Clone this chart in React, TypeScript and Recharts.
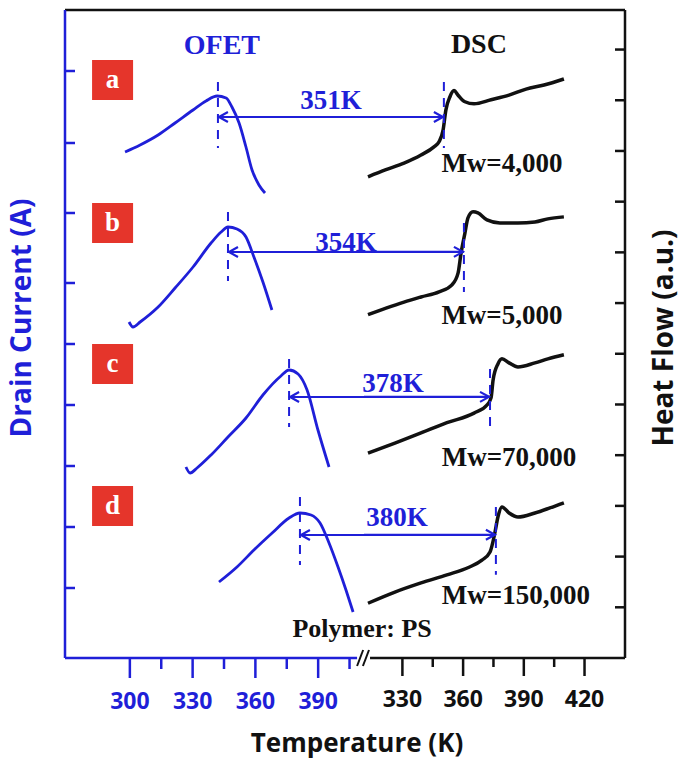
import React from 'react';
import { ComposedChart, Line, XAxis, YAxis, ReferenceLine, ReferenceDot } from 'recharts';

const BLUE = '#1f1fd8';
const BLACK = '#111111';
const RED = '#e5352b';
const SERIF = "'Liberation Serif', 'Times New Roman', serif";
const SANS = "'Open Sans', 'DejaVu Sans', sans-serif";

// ---- axis ticks ----
const ofetTicks = [300, 315, 330, 345, 360, 375, 390, 405];
const ofetTickLabels = ['300', '330', '360', '390'];
const dscTicks = [330, 345, 360, 375, 390, 405, 420];
const dscTickLabels = ['330', '360', '390', '420'];
const leftTicks = [7.0, 13.1, 19.2, 25.3, 31.4, 37.5, 44.5, 51.5, 58.7];
const rightTicks = [1, 2, 3, 4, 5, 6, 7, 8, 9, 10, 11, 12];

// ---- panel annotations ----
const panelLetters = ['a', 'b', 'c', 'd'];
const gapLabels = ['351K', '354K', '378K', '380K'];
const mwLabels = ['Mw=4,000', 'Mw=5,000', 'Mw=70,000', 'Mw=150,000'];

// ---- OFET drain current curves (temperature K, current a.u. offset per panel) ----
const ofetTempA = [297.7, 304.9, 313.5, 321.6, 330.2, 336.4, 341.7, 346.0, 348.8, 352.2, 355.5, 358.4, 361.7, 364.6];
const ofetCurrA = [50.6, 51.3, 52.3, 53.5, 54.8, 55.7, 56.2, 56.0, 55.1, 53.5, 51.1, 48.8, 47.3, 46.5];
const ofetTempB = [299.6, 301.5, 304.9, 313.5, 321.6, 330.2, 338.8, 343.6, 346.9, 351.2, 355.5, 359.3, 363.6, 367.9];
const ofetCurrB = [33.6, 33.1, 33.6, 35.1, 37.0, 39.1, 41.5, 42.6, 43.1, 42.9, 42.1, 40.1, 37.6, 34.8];
const ofetTempC = [326.8, 328.8, 332.1, 338.8, 346.9, 355.5, 363.6, 372.2, 376.1, 380.4, 384.7, 389.9, 395.2];
const ofetCurrC = [19.1, 18.5, 19.0, 20.3, 22.1, 24.0, 26.3, 28.2, 28.8, 28.4, 26.8, 22.8, 19.1];
const ofetTempD = [342.6, 351.2, 359.3, 368.0, 376.1, 381.3, 386.6, 390.9, 395.2, 399.5, 403.3, 406.7];
const ofetCurrD = [7.6, 9.1, 10.8, 12.5, 14.0, 14.5, 14.3, 13.5, 11.5, 9.1, 6.8, 4.6];

// ---- DSC heat flow curves (temperature K, heat flow a.u.) ----
const dscTempA = [313.0, 321.9, 330.8, 339.2, 345.6, 348.1, 350.1, 351.5, 353.5, 355.5, 357.5, 360.9, 365.4, 373.8, 382.7, 391.1, 400.0, 409.8];
const dscHeatA = [9.49, 9.63, 9.76, 9.92, 10.08, 10.18, 10.41, 10.81, 11.07, 11.19, 11.10, 10.97, 10.93, 11.01, 11.10, 11.22, 11.30, 11.42];
const dscTempB = [313.0, 321.9, 330.8, 339.2, 348.1, 354.5, 357.5, 359.0, 360.9, 362.4, 364.9, 367.3, 371.8, 378.2, 387.1, 395.5, 401.9, 409.8];
const dscHeatB = [6.77, 6.90, 7.02, 7.12, 7.22, 7.36, 7.59, 7.99, 8.38, 8.68, 8.80, 8.78, 8.64, 8.58, 8.58, 8.60, 8.66, 8.70];
const dscTempC = [313.0, 326.3, 339.2, 352.0, 365.4, 371.8, 373.8, 374.8, 377.2, 379.2, 382.7, 387.1, 395.5, 401.9, 409.8];
const dscHeatC = [4.04, 4.24, 4.44, 4.64, 4.83, 4.99, 5.13, 5.48, 5.80, 5.90, 5.82, 5.74, 5.82, 5.90, 5.98];
const dscTempD = [313.0, 326.3, 339.2, 352.0, 362.9, 369.3, 373.3, 375.7, 377.2, 379.2, 382.7, 387.1, 395.5, 402.9, 409.8];
const dscHeatD = [1.08, 1.30, 1.48, 1.64, 1.79, 1.93, 2.09, 2.47, 2.78, 2.98, 2.86, 2.78, 2.86, 2.96, 3.06];

// ---- marker values ----
const ofetPeakT = [342.1, 346.9, 376.1, 381.3];
const ofetPeakTop = [57.6, 44.6, 29.9, 16.1];
const ofetPeakBottom = [51.0, 37.7, 23.1, 9.3];
const dscTgT = [350.5, 360.4, 373.3, 376.2];
const dscTgTop = [11.36, 8.58, 5.70, 2.98];
const dscTgBottom = [10.06, 7.22, 4.44, 1.64];
const arrowLeftY = [54.1, 40.6, 26.1, 12.3];
const arrowRightY = [10.67, 8.01, 5.15, 2.43];
const gapLabelT = [396.2, 403.3, 425.8, 427.7];
const gapLabelY = [55.8, 41.6, 27.5, 14.1];
const mwLabelT = [379.2, 379.2, 382.7, 386.1];
const mwLabelY = [9.76, 6.77, 3.96, 1.24];
const letterT = 291.5;
const letterY = [57.8, 43.5, 29.4, 15.2];
const OFET_MIN = 269, OFET_MAX = 410, OFET_BREAK = 413;
const DSC_MIN = 313, DSC_MAX = 440, DSC_BREAK = 311;
const LEFT_MAX = 64.8, RIGHT_MAX = 12.78;

const zip = (t: number[], v: number[]) => t.map((x, i) => ({ t: x, v: v[i] }));
const ofetSeries = [zip(ofetTempA, ofetCurrA), zip(ofetTempB, ofetCurrB), zip(ofetTempC, ofetCurrC), zip(ofetTempD, ofetCurrD)];
const dscSeries = [zip(dscTempA, dscHeatA), zip(dscTempB, dscHeatB), zip(dscTempC, dscHeatC), zip(dscTempD, dscHeatD)];

const bottomTick = (color: string, labels: string[], dy: number) => (p: any) => {
  const val = String(p.payload.value);
  const major = labels.includes(val);
  const y0 = p.y - dy;
  return (
    <g>
      <line x1={p.x} y1={y0} x2={p.x} y2={y0 + (major ? 19 : 10)} stroke={color} strokeWidth={2.5} />
      {major && (
        <text x={p.x} y={y0 + 41} textAnchor="middle" dominantBaseline="central" fill={color}
          fontFamily={SANS} fontWeight={700} fontSize={23}>{val}</text>
      )}
    </g>
  );
};

const sideTick = (color: string, dir: number) => (p: any) => (
  <line x1={p.x} y1={p.y} x2={p.x + dir * 10} y2={p.y} stroke={color} strokeWidth={2.5} />
);

const textShape = (s: string, color: string, size: number, family = SERIF) => (p: any) => (
  <text x={p.cx} y={p.cy} textAnchor="middle" dominantBaseline="central" fill={color}
    fontFamily={family} fontWeight={700} fontSize={size}>{s}</text>
);

const letterShape = (s: string) => (p: any) => (
  <g>
    <rect x={p.cx - 20} y={p.cy - 20} width={41} height={40} fill={RED} />
    <text x={p.cx + 0.5} y={p.cy - 1} textAnchor="middle" dominantBaseline="central" fill="#fff"
      fontFamily={SERIF} fontWeight={700} fontSize={27}>{s}</text>
  </g>
);

const arrowLeft = (p: any) => (
  <g>
    <line x1={p.x1} y1={p.y1} x2={p.x2} y2={p.y2} stroke={BLUE} strokeWidth={2.2} />
    <path d={`M${p.x1 + 10},${p.y1 - 5} L${p.x1 + 1},${p.y1} L${p.x1 + 10},${p.y1 + 5}`} fill="none" stroke={BLUE} strokeWidth={2.2} />
  </g>
);
const arrowRight = (p: any) => (
  <g>
    <line x1={p.x1} y1={p.y1} x2={p.x2} y2={p.y2} stroke={BLUE} strokeWidth={2.2} />
    <path d={`M${p.x2 - 10},${p.y2 - 5} L${p.x2 - 1},${p.y2} L${p.x2 - 10},${p.y2 + 5}`} fill="none" stroke={BLUE} strokeWidth={2.2} />
  </g>
);

export default function App() {
  return (
    <div style={{ position: 'absolute', left: 0, top: 0, width: 685, height: 766, background: '#fff' }}>
      <ComposedChart width={685} height={766} margin={{ top: 10, right: 0, bottom: 106, left: 0 }}>
        <XAxis xAxisId="ofet" type="number" dataKey="t" domain={[OFET_MIN, OFET_MAX]} padding={{ left: 0, right: 265 }}
          ticks={ofetTicks} interval={0} axisLine={false} tickLine={false} tickSize={0} tickMargin={0} height={1}
          tick={bottomTick(BLUE, ofetTickLabels, 0)}
          label={{
            content: () => (
              <text x={357} y={742} textAnchor="middle" dominantBaseline="central" fill={BLACK}
                fontFamily={SANS} fontWeight={700} fontSize={26}>Temperature (K)</text>
            ),
          }} />
        <XAxis xAxisId="dsc" type="number" dataKey="t" domain={[DSC_MIN, DSC_MAX]} padding={{ left: 303, right: 0 }}
          ticks={dscTicks} interval={0} axisLine={false} tickLine={false} tickSize={0} tickMargin={0} height={1}
          tick={bottomTick(BLACK, dscTickLabels, 1)} />
        <YAxis yAxisId="left" orientation="left" type="number" domain={[0, LEFT_MAX]} width={65}
          ticks={leftTicks} interval={0} axisLine={{ stroke: BLUE, strokeWidth: 2.5 }} tickLine={false}
          tickSize={0} tickMargin={0} tick={sideTick(BLUE, 1)}
          label={{
            content: () => (
              <text x={20} y={318} transform="rotate(-90 20 318)" textAnchor="middle" dominantBaseline="central"
                fill={BLUE} fontFamily={SANS} fontWeight={700} fontSize={28}>Drain Current (A)</text>
            ),
          }} />
        <YAxis yAxisId="right" orientation="right" type="number" domain={[0, RIGHT_MAX]} width={60}
          ticks={rightTicks} interval={0} axisLine={{ stroke: BLACK, strokeWidth: 2.5 }} tickLine={false}
          tickSize={0} tickMargin={0} tick={sideTick(BLACK, -1)}
          label={{
            content: () => (
              <text x={662} y={338} transform="rotate(-90 662 338)" textAnchor="middle" dominantBaseline="central"
                fill={BLACK} fontFamily={SANS} fontWeight={700} fontSize={28}>Heat Flow (a.u.)</text>
            ),
          }} />

        {/* frame */}
        <ReferenceLine xAxisId="ofet" yAxisId="left" y={LEFT_MAX} stroke={BLACK} strokeWidth={2.5} ifOverflow="visible" />
        <ReferenceLine xAxisId="ofet" yAxisId="left" segment={[{ x: OFET_MIN, y: 0 }, { x: 408.6, y: 0 }]}
          stroke={BLUE} strokeWidth={2.5} ifOverflow="visible" />
        <ReferenceLine xAxisId="dsc" yAxisId="right" segment={[{ x: 314, y: 0 }, { x: DSC_MAX, y: 0 }]}
          stroke={BLACK} strokeWidth={2.5} ifOverflow="visible" />
        <ReferenceLine xAxisId="ofet" yAxisId="left" segment={[{ x: 408.6, y: -0.8 }, { x: 411.5, y: 0.8 }]}
          stroke={BLACK} strokeWidth={2} ifOverflow="visible" />
        <ReferenceLine xAxisId="ofet" yAxisId="left" segment={[{ x: 411.4, y: -0.8 }, { x: 414.3, y: 0.8 }]}
          stroke={BLACK} strokeWidth={2} ifOverflow="visible" />

        {ofetSeries.map((d, i) => (
          <Line key={`o${i}`} xAxisId="ofet" yAxisId="left" data={d} dataKey="v" type="monotone"
            stroke={BLUE} strokeWidth={2.8} dot={false} activeDot={false} isAnimationActive={false} />
        ))}
        {dscSeries.map((d, i) => (
          <Line key={`d${i}`} xAxisId="dsc" yAxisId="right" data={d} dataKey="v" type="monotone"
            stroke={BLACK} strokeWidth={3.5} dot={false} activeDot={false} isAnimationActive={false} />
        ))}

        {panelLetters.map((s, i) => (
          <React.Fragment key={`p${i}`}>
            <ReferenceLine xAxisId="ofet" yAxisId="left"
              segment={[{ x: ofetPeakT[i], y: ofetPeakTop[i] }, { x: ofetPeakT[i], y: ofetPeakBottom[i] }]}
              stroke={BLUE} strokeWidth={2} strokeDasharray="9 7" ifOverflow="visible" />
            <ReferenceLine xAxisId="dsc" yAxisId="right"
              segment={[{ x: dscTgT[i], y: dscTgTop[i] }, { x: dscTgT[i], y: dscTgBottom[i] }]}
              stroke={BLUE} strokeWidth={2} strokeDasharray="9 7" ifOverflow="visible" />
            <ReferenceLine xAxisId="ofet" yAxisId="left"
              segment={[{ x: ofetPeakT[i], y: arrowLeftY[i] }, { x: OFET_BREAK, y: arrowLeftY[i] }]}
              ifOverflow="visible" shape={arrowLeft} />
            <ReferenceLine xAxisId="dsc" yAxisId="right"
              segment={[{ x: DSC_BREAK, y: arrowRightY[i] }, { x: dscTgT[i], y: arrowRightY[i] }]}
              ifOverflow="visible" shape={arrowRight} />
            <ReferenceDot xAxisId="ofet" yAxisId="left" x={gapLabelT[i]} y={gapLabelY[i]} r={0}
              ifOverflow="visible" shape={textShape(gapLabels[i], BLUE, 27)} />
            <ReferenceDot xAxisId="dsc" yAxisId="right" x={mwLabelT[i]} y={mwLabelY[i]} r={0}
              ifOverflow="visible" shape={textShape(mwLabels[i], BLACK, 27)} />
            <ReferenceDot xAxisId="ofet" yAxisId="left" x={letterT} y={letterY[i]} r={0}
              ifOverflow="visible" shape={letterShape(s)} />
          </React.Fragment>
        ))}

        <ReferenceDot xAxisId="ofet" yAxisId="left" x={344.0} y={61.4} r={0} ifOverflow="visible"
          shape={textShape('OFET', BLUE, 28)} />
        <ReferenceDot xAxisId="dsc" yAxisId="right" x={367.8} y={12.11} r={0} ifOverflow="visible"
          shape={textShape('DSC', BLACK, 28)} />
        <ReferenceDot xAxisId="ofet" yAxisId="left" x={411} y={3.0} r={0} ifOverflow="visible"
          shape={textShape('Polymer: PS', BLACK, 26)} />
      </ComposedChart>
    </div>
  );
}
